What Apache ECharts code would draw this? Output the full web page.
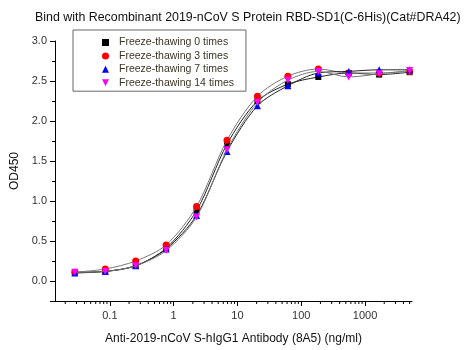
<!DOCTYPE html>
<html>
<head>
<meta charset="utf-8">
<script src="https://cdn.jsdelivr.net/npm/echarts@6/dist/echarts.min.js"></script>
<style>
  html, body { margin: 0; padding: 0; background: #fff; }
  #chart { width: 467px; height: 350px; }
</style>
</head>
<body>
<div id="chart"></div>
<script>
// antibody concentration (ng/ml), 3-fold dilutions
var concentrations = [5000, 1666.7, 555.6, 185.2, 61.73, 20.58, 6.859, 2.286, 0.7621, 0.2540, 0.08467, 0.02822];

// OD450 readings
var times0  = [2.61, 2.58, 2.60, 2.55, 2.46, 2.25, 1.71, 0.88, 0.41, 0.19, 0.12, 0.11];
var times3  = [2.62, 2.60, 2.60, 2.65, 2.56, 2.31, 1.76, 0.93, 0.45, 0.25, 0.15, 0.11];
var times7  = [2.64, 2.64, 2.62, 2.60, 2.44, 2.19, 1.62, 0.82, 0.40, 0.19, 0.12, 0.10];
var times14 = [2.63, 2.59, 2.55, 2.62, 2.51, 2.23, 1.64, 0.80, 0.38, 0.19, 0.12, 0.11];

var seriesNames = ['Freeze-thawing 0 times', 'Freeze-thawing 3 times', 'Freeze-thawing 7 times', 'Freeze-thawing 14 times'];
var seriesColors = ['#000000', '#ff0000', '#0000ff', '#ff00ff'];
var seriesSymbols = ['rect', 'circle', 'triangle', 'path://M0,0 L10,0 L5,10 Z'];
var seriesValues = [times0, times3, times7, times14];

// minor ticks of the log axis (2..9 in each decade)
var minorTicks = [];
[0.01, 0.1, 1, 10, 100, 1000].forEach(function (d) {
    for (var k = 2; k <= 9; k++) {
        var v = +(d * k).toPrecision(3);
        if (v > 0.0138 && v < 5450) minorTicks.push(v);
    }
});

var xMin = 0.0138, xMax = 5450, yMin = -0.25, yMax = 3.0;

var chart = echarts.init(document.getElementById('chart'));

var series = [];
seriesValues.forEach(function (vals, i) {
    series.push({
        name: seriesNames[i],
        type: 'line',
        smooth: 0.3,
        data: concentrations.map(function (c, j) { return [c, vals[j]]; }),
        symbol: seriesSymbols[i],
        symbolSize: i === 0 ? 6 : 7,
        showAllSymbol: true,
        itemStyle: { color: seriesColors[i] },
        lineStyle: { color: i % 2 ? '#777' : '#222', width: 1 },
        z: 3 + i
    });
});

series.push({
    type: 'custom',
    silent: true,
    clip: false,
    data: minorTicks.map(function (v) { return [v, yMin]; }),
    renderItem: function (params, api) {
        var p = api.coord([api.value(0), yMin]);
        return {
            type: 'line',
            shape: { x1: p[0], y1: p[1], x2: p[0], y2: p[1] + 3 },
            style: { stroke: '#000', lineWidth: 1 }
        };
    },
    z: 10
});

chart.setOption({
    animation: false,
    title: {
        text: 'Bind with Recombinant 2019-nCoV S Protein RBD-SD1(C-6His)(Cat#DRA42)',
        left: 30,
        top: 7,
        textStyle: { fontFamily: 'Liberation Sans', fontSize: 12.4, fontWeight: 'normal', color: '#111' }
    },
    legend: {
        orient: 'vertical',
        left: 73,
        top: 30,
        width: 171,
        padding: [7, 12, 3, 29],
        itemGap: 2.4,
        itemWidth: 7,
        itemHeight: 7,
        borderColor: '#666',
        borderWidth: 1,
        textStyle: { fontFamily: 'Liberation Sans', fontSize: 10.5, lineHeight: 11, color: '#3d3526', padding: [0, 0, 0, 5] },
        data: seriesNames.map(function (n, i) { return { name: n, icon: seriesSymbols[i] }; })
    },
    grid: { left: 55, right: 55, top: 41, bottom: 48 },
    xAxis: {
        type: 'log',
        logBase: 10,
        min: xMin,
        max: xMax,
        name: 'Anti-2019-nCoV S-hIgG1 Antibody (8A5) (ng/ml)',
        nameLocation: 'middle',
        nameGap: 32,
        nameTextStyle: { fontFamily: 'Liberation Sans', fontSize: 12, color: '#111' },
        axisLine: { onZero: false, lineStyle: { color: '#000', width: 1 } },
        axisTick: { length: 5, lineStyle: { color: '#000' } },
        axisLabel: {
            showMinLabel: false,
            showMaxLabel: false,
            margin: 9,
            fontFamily: 'Liberation Sans',
            fontSize: 11,
            color: '#333',
            formatter: function (v) { return String(+v.toPrecision(3)); }
        },
        splitLine: { show: false }
    },
    yAxis: {
        type: 'value',
        min: yMin,
        max: yMax,
        name: 'OD450',
        nameLocation: 'middle',
        nameGap: 34,
        nameTextStyle: { fontFamily: 'Liberation Sans', fontSize: 12, color: '#111' },
        axisLine: { show: true, lineStyle: { color: '#000', width: 1 } },
        axisTick: { show: true, length: 5, lineStyle: { color: '#000' } },
        minorTick: { show: true, splitNumber: 2, length: 3, lineStyle: { color: '#000' } },
        axisLabel: {
            showMinLabel: false,
            margin: 8,
            fontFamily: 'Liberation Sans',
            fontSize: 11,
            color: '#333',
            formatter: function (v) { return v.toFixed(1); }
        },
        splitLine: { show: false }
    },
    series: series
});
</script>
</body>
</html>
